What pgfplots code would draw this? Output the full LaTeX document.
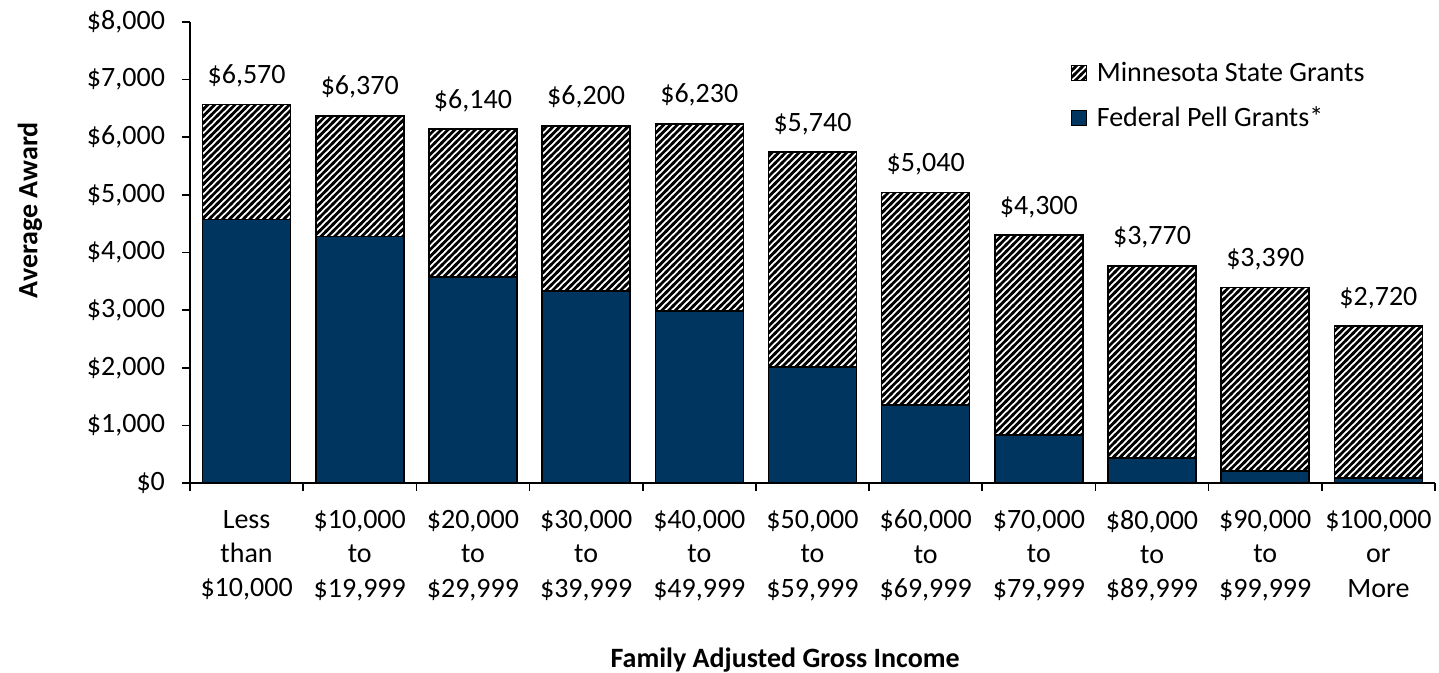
\documentclass[border=0pt]{standalone}
\usepackage{fontspec}
\setmainfont{Carlito}
\usepackage{pgfplots}
\pgfplotsset{compat=1.18}
\usepackage{pgfplotstable}
\usetikzlibrary{patterns}
\definecolor{navy}{RGB}{0,53,96}
\pgfdeclarepatternformonly{hatchNE}{\pgfqpoint{-1pt}{-1pt}}{\pgfqpoint{4.4pt}{4.4pt}}{\pgfqpoint{3.4pt}{3.4pt}}{%
  \pgfsetlinewidth{1.35pt}%
  \pgfpathmoveto{\pgfqpoint{-0.5pt}{-0.5pt}}%
  \pgfpathlineto{\pgfqpoint{3.9pt}{3.9pt}}%
  \pgfusepath{stroke}}
\pgfplotstableread{
x pell total
0 4570 6570
1 4280 6370
2 3570 6140
3 3330 6200
4 2990 6230
5 2010 5740
6 1350 5040
7 830 4300
8 430 3770
9 210 3390
10 90 2720
}\datatable
\newcommand{\fs}{\fontsize{14}{17.2}\selectfont}
\begin{document}
\begin{tikzpicture}
\useasboundingbox (-95pt,-95pt) rectangle (624.5pt,241.5pt);
\begin{axis}[
  at={(0,0)}, anchor=south west,
  scale only axis, width=622.5pt, height=230.5pt,
  ybar, bar width=44pt, bar shift=0pt,
  xmin=-0.5, xmax=10.5, ymin=0, ymax=8000,
  axis x line=bottom, axis y line=left,
  axis line style={-, line width=0.8pt},
  xtick={0,...,10},
  xticklabels={{Less\\than\\\$10,000},{\$10,000\\to\\\$19,999},{\$20,000\\to\\\$29,999},{\$30,000\\to\\\$39,999},{\$40,000\\to\\\$49,999},{\$50,000\\to\\\$59,999},{\$60,000\\to\\\$69,999},{\$70,000\\to\\\$79,999},{\$80,000\\to\\\$89,999},{\$90,000\\to\\\$99,999},{\$100,000\\or\\More}},
  major x tick style={draw=none},
  minor xtick={-0.5,0.5,...,10.5},
  tick align=outside, major tick length=4pt, minor tick length=4pt,
  tick style={line width=0.8pt, black},
  ytick={0,1000,...,8000},
  yticklabel={\$\pgfmathprintnumber[fixed,precision=0,1000 sep={,}]{\tick}},
  scaled y ticks=false,
  /pgf/number format/assume math mode=true,
  xticklabel style={align=center, font=\fs, yshift=-6pt},
  yticklabel style={font=\fs, xshift=-5pt},
  ylabel={Average Award},
  ylabel style={at={(axis description cs:-0.1285,0.592)}, anchor=center, font=\fs\bfseries},
  xlabel={Family Adjusted Gross Income},
  xlabel style={at={(axis description cs:0.478,-0.384)}, anchor=center, font=\fs\bfseries},
  legend style={draw=none, fill=none, at={(axis description cs:0.707,0.918)}, anchor=north west,
    inner sep=0pt, row sep=9pt, font=\fs, nodes={inner sep=1pt},
    /tikz/every odd column/.append style={column sep=4pt}},
  legend cell align=left,
  legend image code/.code={\draw[#1, line width=0.6pt] (0pt,-3.75pt) rectangle (7.5pt,3.75pt);},
]
\addplot[pattern=hatchNE, pattern color=black, draw=black, line width=0.8pt,
  point meta=y,
  nodes near coords={\$\pgfmathprintnumber[fixed,precision=0,1000 sep={,}]{\pgfplotspointmeta}},
  every node near coord/.append style={font=\fs, yshift=5pt, black}]
  table[x=x, y=total]{\datatable};
\addlegendentry{Minnesota State Grants}
\addplot[fill=navy, draw=black, line width=0.8pt]
  table[x=x, y=pell]{\datatable};
\addlegendentry{Federal Pell Grants*}
\end{axis}
\end{tikzpicture}
\end{document}
